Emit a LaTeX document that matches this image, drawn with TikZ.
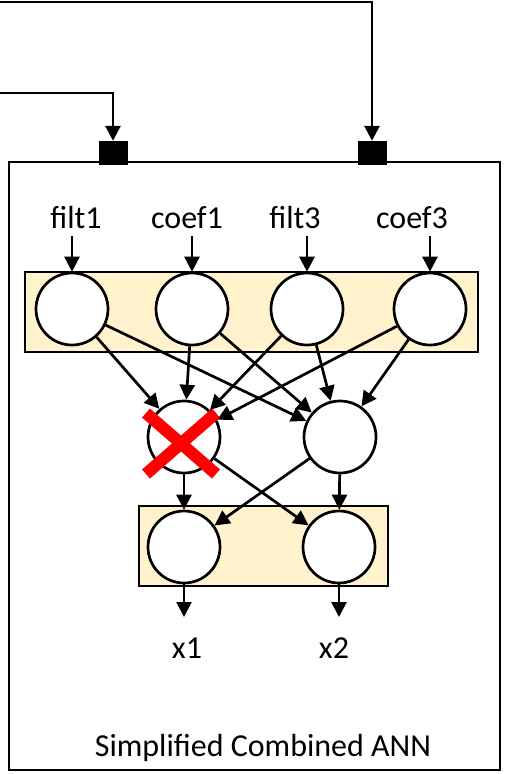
\documentclass[tikz,border=0pt]{standalone}
\usepackage{fontspec}
\setmainfont{Carlito}
\usetikzlibrary{arrows.meta}
\definecolor{layerfill}{HTML}{FFF2CC}
\begin{document}
\begin{tikzpicture}[x=1pt,y=-1pt,
  wire/.style={line width=2.7pt,-{Triangle[length=15pt,width=15pt]}},
  neuron/.style={circle,draw,line width=2.7pt,fill=white,minimum width=72pt,minimum height=70pt,inner sep=0pt},
  layer/.style={draw,line width=1.8pt,fill=layerfill},
  port/.style={fill=black,minimum width=29pt,minimum height=24pt,inner sep=0pt},
  lbl/.style={font=\fontsize{32}{36}\selectfont,inner sep=0pt}]
\useasboundingbox (0,0) rectangle (505,774);

% outer block
\draw[line width=1.8pt] (9,162) rectangle (500,770);
\node[lbl] (title) at (263,748) {Simplified Combined ANN};

% input ports and feed lines
\node[port] (p1) at (113,153) {};
\node[port] (p2) at (372,153) {};
\coordinate (s1) at (0,93);
\coordinate (s2) at (0,2);
\draw[wire] (s1) -| (p1.north);
\draw[wire] (s2) -| (p2.north);

% layer backgrounds
\draw[layer] (25,272) rectangle (478,352);
\draw[layer] (139,506) rectangle (388,586);

% input layer
\node[neuron] (i1) at (72,309) {};
\node[neuron] (i2) at (192,309) {};
\node[neuron] (i3) at (307,309) {};
\node[neuron] (i4) at (430,309) {};

\node[lbl] (l1) at (76,218) {filt1};
\node[lbl] (l2) at (187,218) {coef1};
\node[lbl] (l3) at (295,218) {filt3};
\node[lbl] (l4) at (412,218) {coef3};
\foreach \k in {1,...,4} \draw[wire] (i\k.north |- 0,236) -- (i\k.north);

% hidden layer
\node[neuron] (h1) at (184,437) {};
\node[neuron] (h2) at (340,437) {};
\foreach \k in {1,...,4} {
  \draw[wire] (i\k) -- (h1);
  \draw[wire] (i\k) -- (h2);
}

% output layer
\node[neuron] (o1) at (184,547) {};
\node[neuron] (o2) at (339,547) {};
\foreach \a in {1,2} \foreach \b in {1,2} \draw[wire] (h\a) -- (o\b);

\node[lbl] (x1) at (187,648) {x1};
\node[lbl] (x2) at (334,648) {x2};
\coordinate (t1) at (184,617);
\coordinate (t2) at (339,617);
\draw[wire] (o1.south) -- (t1);
\draw[wire] (o2.south) -- (t2);

% removed neuron
\draw[red,line width=12pt] (146,413) -- (216,474) (216,413) -- (146,474);
\end{tikzpicture}
\end{document}
